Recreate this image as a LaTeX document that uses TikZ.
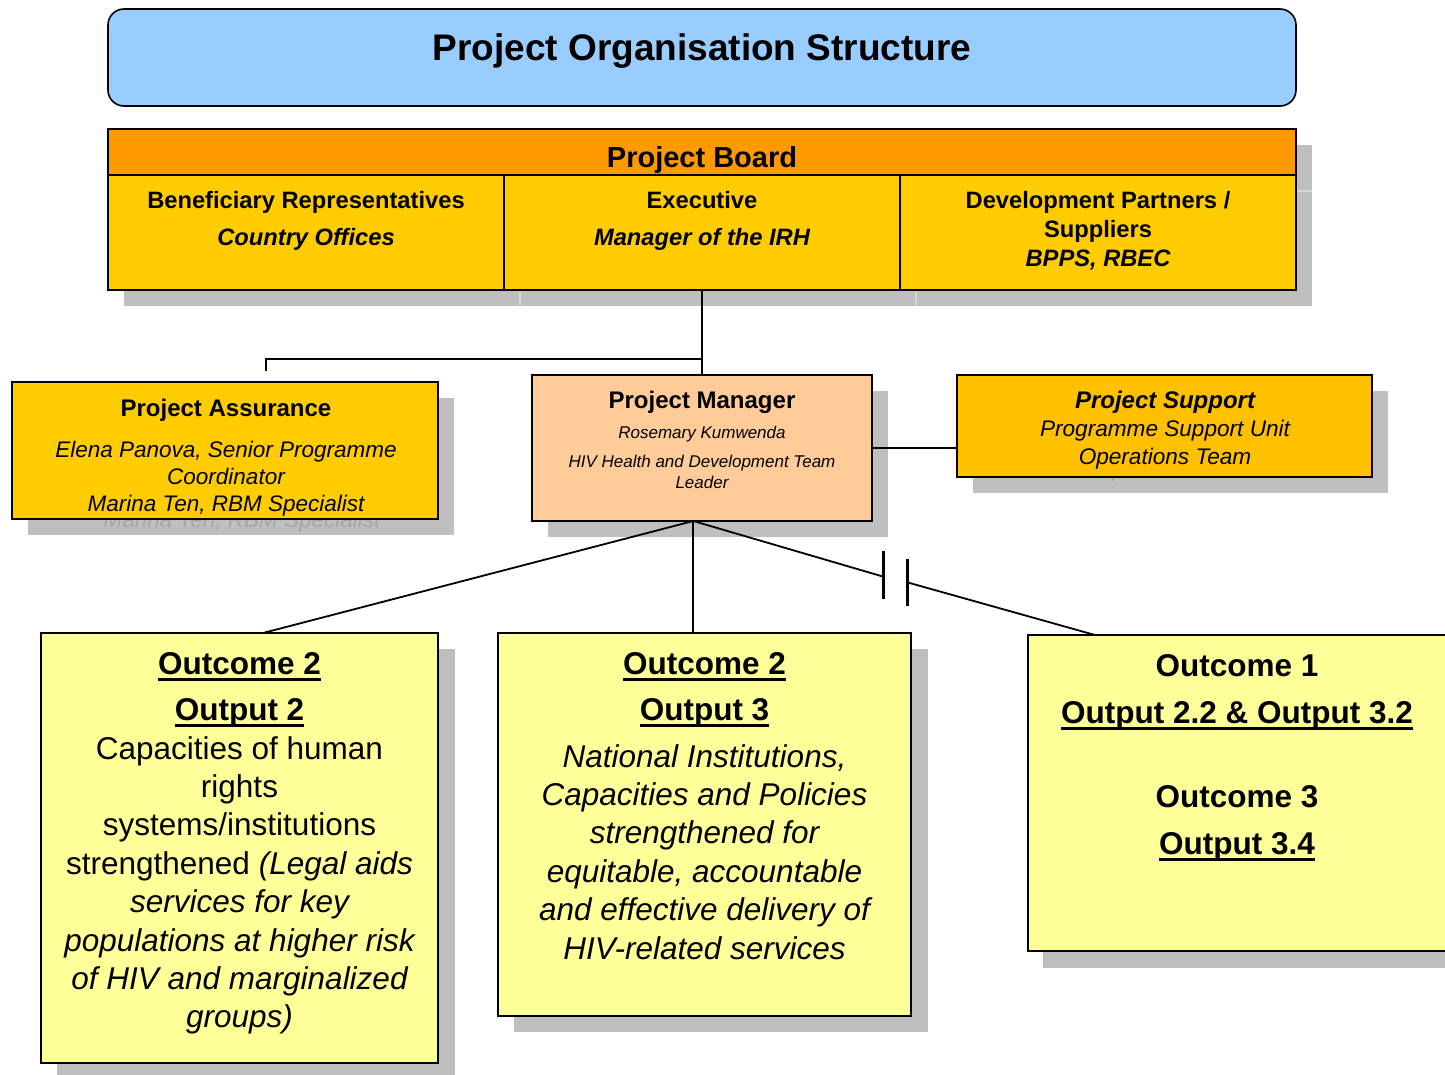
\documentclass[tikz,border=0pt]{standalone}
\usepackage{fontspec}
\setmainfont{Liberation Sans}
\definecolor{titleblue}{HTML}{99CCFF}
\definecolor{boardorange}{HTML}{FF9900}
\definecolor{boardgold}{HTML}{FFCC00}
\definecolor{assurgold}{HTML}{FFCC00}
\definecolor{pmpeach}{HTML}{FFCC99}
\definecolor{supgold}{HTML}{FFC000}
\definecolor{outyellow}{HTML}{FFFF99}
\definecolor{shadowgray}{HTML}{BFBFBF}
\definecolor{ghostgray}{HTML}{A6A6A6}
\definecolor{ghostline}{HTML}{D4D4D4}
\newsavebox\ulbox
\newcommand\ulx[1]{\sbox\ulbox{#1}\rlap{\raisebox{-6.6pt}{\rule{\wd\ulbox}{2.4pt}}}\usebox\ulbox}
\tikzset{
  box/.style={draw=black, line width=1.6pt, inner sep=0pt, outer sep=0pt, anchor=north west},
  txt/.style={inner sep=0pt, outer sep=0pt, align=center, anchor=base},
  conn/.style={draw=black, line width=1.8pt},
  bar/.style={draw=black, line width=2.2pt},
}
\begin{document}
\begin{tikzpicture}[x=1pt,y=-1pt]
\useasboundingbox (0,0) rectangle (1445,1074);
\clip (0,0) rectangle (1445,1074);

% ---------- shadows ----------
\fill[shadowgray] (124,145) rectangle (1312,306);
\draw[ghostline, line width=1.2pt] (520,290) -- (520,306) (916,290) -- (916,306) (1296,191) -- (1312,191);
\fill[shadowgray] (28,398) rectangle (454,535);
\fill[shadowgray] (548,391) rectangle (888,537);
\fill[shadowgray] (973,391) rectangle (1388,493);
\fill[shadowgray] (57,649) rectangle (455,1080);
\fill[shadowgray] (514,649) rectangle (928,1032);
\fill[shadowgray] (1043,651) rectangle (1460,968);

% ghost text in shadows (only their lower edge peeks out)
\node[txt, text=ghostgray, font=\fontsize{22.5}{27}\selectfont\itshape] (assurGhost) at (242,527) {Marina Ten, RBM Specialist};
\node[txt, text=ghostgray, font=\fontsize{22.6}{28}\selectfont\itshape] (supGhost) at (1181,476.5) {Operations Team};

% ---------- title ----------
\node[box, fill=titleblue, rounded corners=16pt, minimum width=1188pt, minimum height=97pt] (titlebox) at (108,9) {};
\node[txt, font=\fontsize{37}{44}\selectfont\bfseries] (titletext) at (702,60) {Project Organisation Structure};

% ---------- project board ----------
\node[box, fill=boardorange, minimum width=1188pt, minimum height=46pt] (boardHead) at (108,129) {};
\node[box, fill=boardgold, line width=1.2pt, minimum width=396pt, minimum height=115pt] (benCell) at (108,175) {};
\node[box, fill=boardgold, line width=1.2pt, minimum width=396pt, minimum height=115pt] (exeCell) at (504,175) {};
\node[box, fill=boardgold, line width=1.2pt, minimum width=396pt, minimum height=115pt] (devCell) at (900,175) {};
\draw[line width=2pt] (boardHead.north west) rectangle (devCell.south east);
\draw[line width=2pt] (boardHead.south west) -- (boardHead.south east);

\node[txt, font=\fontsize{29}{34}\selectfont\bfseries] (boardText) at (702,167) {Project Board};
\node[txt, font=\fontsize{23.7}{29}\selectfont] (benText) at (306,245.5)
  {\bfseries Beneficiary Representatives\\[8pt]{\bfseries\itshape Country Offices}};
\node[txt, font=\fontsize{23.7}{29}\selectfont] (exeText) at (702,245.5)
  {\bfseries Executive\\[8pt]{\bfseries\itshape Manager of the IRH}};
\node[txt, font=\fontsize{23.7}{29}\selectfont] (devText) at (1098,266.5)
  {\bfseries Development Partners /\\{\bfseries Suppliers}\\{\bfseries\itshape BPPS, RBEC}};

% ---------- assurance / manager / support ----------
\node[box, fill=assurgold, minimum width=426pt, minimum height=137pt] (assur) at (12,382) {};
\node[txt, font=\fontsize{24}{29}\selectfont\bfseries] (assurT) at (226,416.6) {Project Assurance};
\node[txt, font=\fontsize{22.5}{27}\selectfont\itshape] (assurB) at (226,511)
  {Elena Panova, Senior Programme\\{\itshape Coordinator}\\{\itshape Marina Ten, RBM Specialist}};

\node[box, fill=pmpeach, minimum width=340pt, minimum height=146pt] (pm) at (532,375) {};
\node[txt, font=\fontsize{24}{29}\selectfont\bfseries] (pmT) at (702,408.6) {Project Manager};
\node[txt, font=\fontsize{17}{21}\selectfont\itshape] (pmN) at (702,438) {Rosemary Kumwenda};
\node[txt, font=\fontsize{17}{21}\selectfont\itshape] (pmR) at (702,488)
  {HIV Health and Development Team\\{\itshape Leader}};

\node[box, fill=supgold, minimum width=415pt, minimum height=102pt] (sup) at (957,375) {};
\node[txt, font=\fontsize{24}{28}\selectfont\bfseries\itshape] (supT) at (1165,408.6) {Project Support};
\node[txt, font=\fontsize{22.6}{28}\selectfont\itshape] (supB) at (1165,464.6)
  {Programme Support Unit\\{\itshape Operations Team}};

% ---------- outcome boxes ----------
\node[box, fill=outyellow, minimum width=397pt, minimum height=430pt] (outL) at (41,633) {};
\node[txt, font=\fontsize{31.5}{46}\selectfont\bfseries] (outLT) at (239.5,720)
  {\ulx{Outcome 2}\\{\bfseries\ulx{Output 2}}};
\node[txt, font=\fontsize{31.5}{38.4}\selectfont] (outLB) at (239.5,1027.8)
  {Capacities of human\\rights\\systems/institutions\\strengthened {\itshape (Legal aids}\\{\itshape services for key}\\{\itshape populations at higher risk}\\{\itshape of HIV and marginalized}\\{\itshape groups)}};

\node[box, fill=outyellow, minimum width=413pt, minimum height=383pt] (outM) at (498,633) {};
\node[txt, font=\fontsize{31.5}{46}\selectfont\bfseries] (outMT) at (704.5,720)
  {\ulx{Outcome 2}\\{\bfseries\ulx{Output 3}}};
\node[txt, font=\fontsize{31.5}{38.4}\selectfont\itshape] (outMB) at (704.5,959)
  {National Institutions,\\{\itshape Capacities and Policies}\\{\itshape strengthened for}\\{\itshape equitable, accountable}\\{\itshape and effective delivery of}\\{\itshape HIV-related services}};

\node[box, fill=outyellow, minimum width=430pt, minimum height=316pt] (outR) at (1028,635) {};
\node[txt, font=\fontsize{31.5}{47}\selectfont\bfseries] (outRT) at (1237,854)
  {Outcome 1\\{\bfseries\ulx{Output 2.2 \& Output 3.2}}\\[37pt]{\bfseries Outcome 3}\\{\bfseries\ulx{Output 3.4}}};

% ---------- connectors ----------
\coordinate (junc) at (exeCell.south |- 0,359);
\coordinate (stub) at (266,371);
\draw[conn] (exeCell.south) -- (pm.north);
\draw[conn] (junc) -| (stub);
\draw[conn] (pm.east) -- (sup.west |- pm.east);

\coordinate (apex) at (693.3,521);
\coordinate (topL) at (263,633);
\coordinate (topM) at (693.3,633);
\coordinate (topR) at (1095,635);
\coordinate (brA) at (883.5,576.7);
\coordinate (brB) at (907.5,582.4);
\draw[conn] (apex) -- (topL);
\draw[conn] (apex) -- (topM);
\draw[conn] (apex) -- (brA);
\draw[conn] (brB) -- (topR);
\draw[bar] (883.5,550.5) -- (883.5,598.5);
\draw[bar] (907.5,558.5) -- (907.5,606);
\end{tikzpicture}
\end{document}
